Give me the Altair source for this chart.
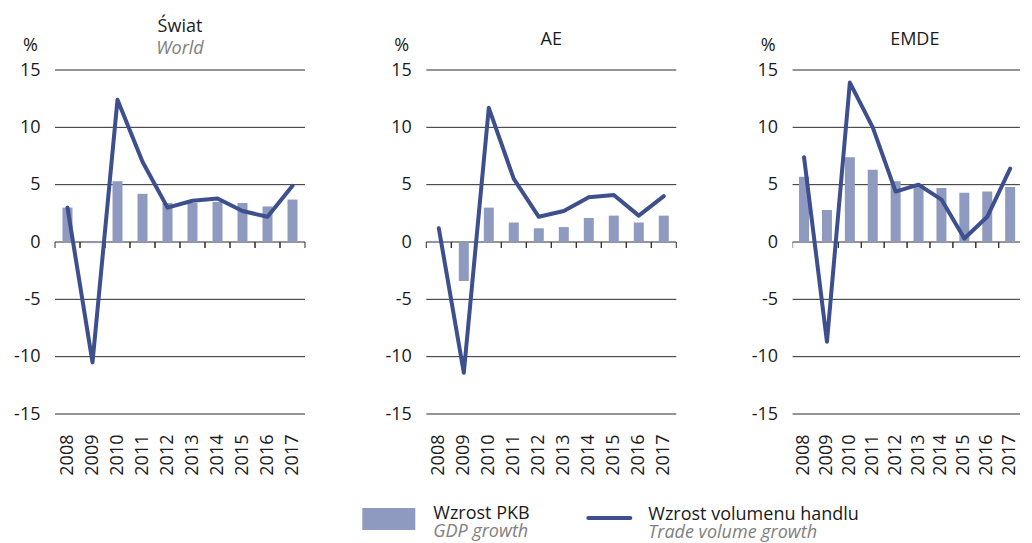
import altair as alt
import pandas as pd

years = ["2008", "2009", "2010", "2011", "2012", "2013", "2014", "2015", "2016", "2017"]

world_gdp = [3.0, -0.1, 5.3, 4.2, 3.4, 3.4, 3.5, 3.4, 3.1, 3.7]
world_trade = [3.0, -10.5, 12.4, 7.0, 3.0, 3.6, 3.8, 2.7, 2.2, 4.9]
ae_gdp = [0.1, -3.4, 3.0, 1.7, 1.2, 1.3, 2.1, 2.3, 1.7, 2.3]
ae_trade = [1.2, -11.4, 11.7, 5.5, 2.2, 2.7, 3.9, 4.1, 2.3, 4.0]
emde_gdp = [5.7, 2.8, 7.4, 6.3, 5.3, 5.0, 4.7, 4.3, 4.4, 4.8]
emde_trade = [7.4, -8.7, 13.9, 10.0, 4.4, 5.0, 3.7, 0.3, 2.2, 6.4]

y_ticks = [-15, -10, -5, 0, 5, 10, 15]
legend_gdp = ["Wzrost PKB", "GDP growth"]
legend_trade = ["Wzrost volumenu handlu", "Trade volume growth"]

FONT = "Open Sans"
FS = 18
TXT = "#1a1a1a"
BAR = "#8e9abf"
LINE = "#3e4f8e"
GRID = "#2b2b2b"
H = 344


def panel(gdp, trade, title, subtitle=None, legend=False, width=250, span=250,
          grid_end=250, clip=False, title_dx=0):
    df = pd.DataFrame({"year": years, "gdp": gdp, "trade": trade})
    x = alt.X(
        "year:O",
        title=None,
        scale=alt.Scale(paddingInner=0, paddingOuter=0, range=[0, span]),
        axis=alt.Axis(
            labelAngle=-90,
            ticks=False,
            domain=False,
            grid=False,
            labelPadding=20,
            labelFontSize=FS,
            labelFont=FONT,
            labelColor=TXT,
        ),
    )
    yscale = alt.Scale(domain=[-15, 15], nice=False)
    yaxis = alt.Axis(
        values=y_ticks,
        title="%",
        titleAngle=0,
        titleX=-25,
        titleY=-25,
        titleAlign="center",
        titleBaseline="middle",
        titleFontSize=FS,
        titleFont=FONT,
        titleFontWeight="normal",
        titleColor=TXT,
        grid=False,
        domain=False,
        ticks=False,
        labelPadding=15,
        labelFontSize=FS,
        labelFont=FONT,
        labelColor=TXT,
        labelExpr="datum.value + ''",
    )
    grid = alt.Chart(pd.DataFrame({"v": y_ticks})).mark_rule(
        color=GRID, strokeWidth=1
    ).encode(y=alt.Y("v:Q", scale=yscale), x=alt.value(0), x2=alt.value(grid_end))
    bars = alt.Chart(df).mark_bar(color=BAR, size=10, clip=clip).encode(
        x=x, y=alt.Y("gdp:Q", scale=yscale, axis=yaxis)
    )
    tick0 = alt.Chart(df).mark_rule(color=GRID, strokeWidth=1, clip=clip).encode(
        x=alt.X("year:O", bandPosition=0), y=alt.value(H / 2), y2=alt.value(H / 2 + 6)
    )
    tick1 = alt.Chart(df).mark_rule(color=GRID, strokeWidth=1, clip=clip).encode(
        x=alt.X("year:O", bandPosition=1), y=alt.value(H / 2), y2=alt.value(H / 2 + 6)
    )
    line = alt.Chart(df).mark_line(
        color=LINE, strokeWidth=4, strokeJoin="round", strokeCap="round", clip=clip
    ).encode(x="year:O", y=alt.Y("trade:Q", scale=yscale))
    layers = [grid, bars, tick0, tick1, line]

    if legend:
        one = pd.DataFrame({"k": [0]})
        lb = alt.Chart(one)
        layers += [
            lb.mark_rect(color=BAR).encode(
                x=alt.value(-64), x2=alt.value(-11), y=alt.value(438), y2=alt.value(460)
            ),
            lb.mark_text(align="left", baseline="alphabetic", fontSize=FS, font=FONT, color=TXT).encode(
                x=alt.value(7), y=alt.value(449), text=alt.value(legend_gdp[0])
            ),
            lb.mark_text(align="left", baseline="alphabetic", fontSize=FS, font=FONT, color="#808080", fontStyle="italic").encode(
                x=alt.value(7), y=alt.value(467), text=alt.value(legend_gdp[1])
            ),
            lb.mark_rule(color=LINE, strokeWidth=4, strokeCap="round").encode(
                x=alt.value(162), x2=alt.value(204), y=alt.value(448)
            ),
            lb.mark_text(align="left", baseline="alphabetic", fontSize=FS, font=FONT, color=TXT).encode(
                x=alt.value(222), y=alt.value(450), text=alt.value(legend_trade[0])
            ),
            lb.mark_text(align="left", baseline="alphabetic", fontSize=FS, font=FONT, color="#808080", fontStyle="italic").encode(
                x=alt.value(222), y=alt.value(468), text=alt.value(legend_trade[1])
            ),
        ]

    if subtitle:
        t = alt.Title(
            title,
            subtitle=subtitle,
            fontSize=FS,
            font=FONT,
            fontWeight="normal",
            color=TXT,
            subtitleFont=FONT,
            subtitleFontSize=FS,
            subtitleFontStyle="italic",
            subtitleColor="#808080",
            subtitlePadding=4,
            anchor="middle",
            offset=-22,
            dx=title_dx,
        )
    else:
        t = alt.Title(
            title,
            fontSize=FS,
            font=FONT,
            fontWeight="normal",
            color=TXT,
            anchor="middle",
            offset=-13,
            dx=title_dx,
        )
    return alt.layer(*layers).properties(width=width, height=H, title=t)


p1 = panel(world_gdp, world_trade, "Świat", "World")
p2 = panel(ae_gdp, ae_trade, "AE", legend=True, width=244.7, title_dx=2.6)
p3 = panel(emde_gdp, emde_trade, "EMDE", width=227.3, span=229, grid_end=227.3,
           clip=True, title_dx=8.5)

chart = (
    alt.hconcat(p1, p2, p3, spacing=121.3, bounds="flush")
    .properties(padding={"left": 5, "top": 10, "right": 0, "bottom": 5})
    .configure(background="white")
    .configure_view(stroke=None)
)

chart.save("out.html", embed_options={"renderer": "svg", "actions": False})
